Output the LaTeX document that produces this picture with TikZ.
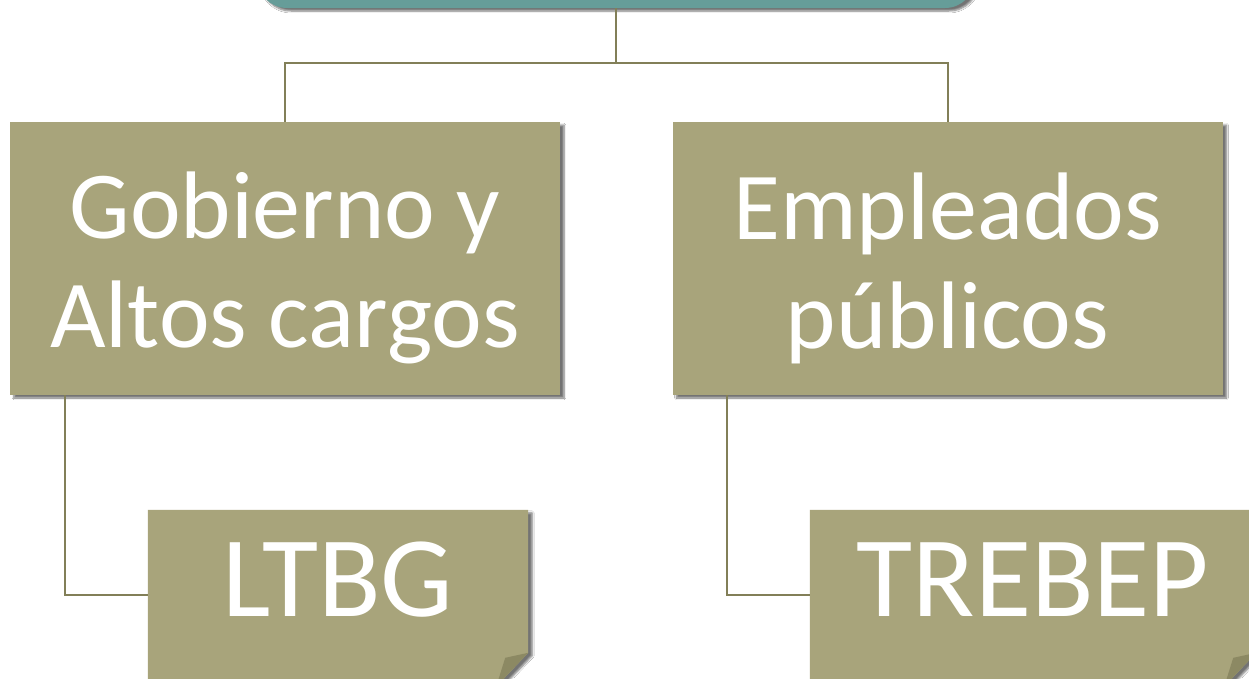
\documentclass[tikz,border=0pt]{standalone}
\usepackage{fontspec}
\setmainfont{Carlito}
\usepackage{tikz}
\usetikzlibrary{calc,backgrounds,shadows.blur}
\definecolor{olivebox}{HTML}{A8A47B}
\definecolor{olivedark}{HTML}{827F58}
\definecolor{olivefold}{HTML}{8C8963}
\definecolor{tealbox}{HTML}{669D99}
\tikzset{
	boxshadow/.style={blur shadow={shadow xshift=4pt, shadow yshift=-3pt, shadow blur steps=6, shadow opacity=55}},
	rootbox/.style={fill=tealbox, rounded corners=30pt, minimum width=718, minimum height=108, boxshadow},
	headbox/.style={fill=olivebox, text=white, align=center, font=\fontsize{96}{109}\selectfont, minimum width=550, minimum height=273, boxshadow},
	notebox/.style={text=white, font=\fontsize{115}{120}\selectfont, minimum width=#1, minimum height=170, text height=74pt, text depth=32pt},
	link/.style={draw=olivedark, line width=2pt},
}
\def\notepaper(#1){\fill[olivebox, boxshadow] (#1.north west) -- (#1.north east) -- ($(#1.north east)+(0,143)$) -- ($(#1.south east)+(-26,0)$) -- (#1.south west) -- cycle;
	\fill[olivefold] ($(#1.north east)+(-23,148)$) -- ($(#1.north east)+(0,143)$) -- ($(#1.south east)+(-26,0)$) -- ($(#1.south east)+(-30,0)$) -- cycle;}
\def\firstline{\rule{0pt}{86pt}}

\begin{document}
\begin{tikzpicture}[x=1pt, y=-1pt]
		%%%%% START %%%%%
		\useasboundingbox (0,0) rectangle (1249,678);
		
		\node[rootbox] (root) at (616,-46) {};
		
		\node[headbox] (gob) at (285,258.5) {\firstline Gobierno y\\Altos cargos};
		\node[headbox] (emp) at (947.5,258.5) {\firstline Empleados\\públicos};
		
		\node[notebox=380] (ltbg) at (338,595) {LTBG};
		\node[notebox=446] (treb) at (1033,595) {TREBEP};
		
		\begin{scope}[on background layer]
			\fill[white] (0,0) rectangle (1249,678);
			\notepaper(ltbg)
			\notepaper(treb)
		\end{scope}
		
		\draw[link] (root.south) -- ++(0,55) -| (gob.north);
		\draw[link] (root.south) -- ++(0,55) -| (emp.north);
		
		\draw[link] ([xshift=55pt]gob.south west) |- (ltbg.west);
		\draw[link] ([xshift=55pt]emp.south west) |- (treb.west);
		
		%%%%% END %%%%%
	\end{tikzpicture}
\end{document}
